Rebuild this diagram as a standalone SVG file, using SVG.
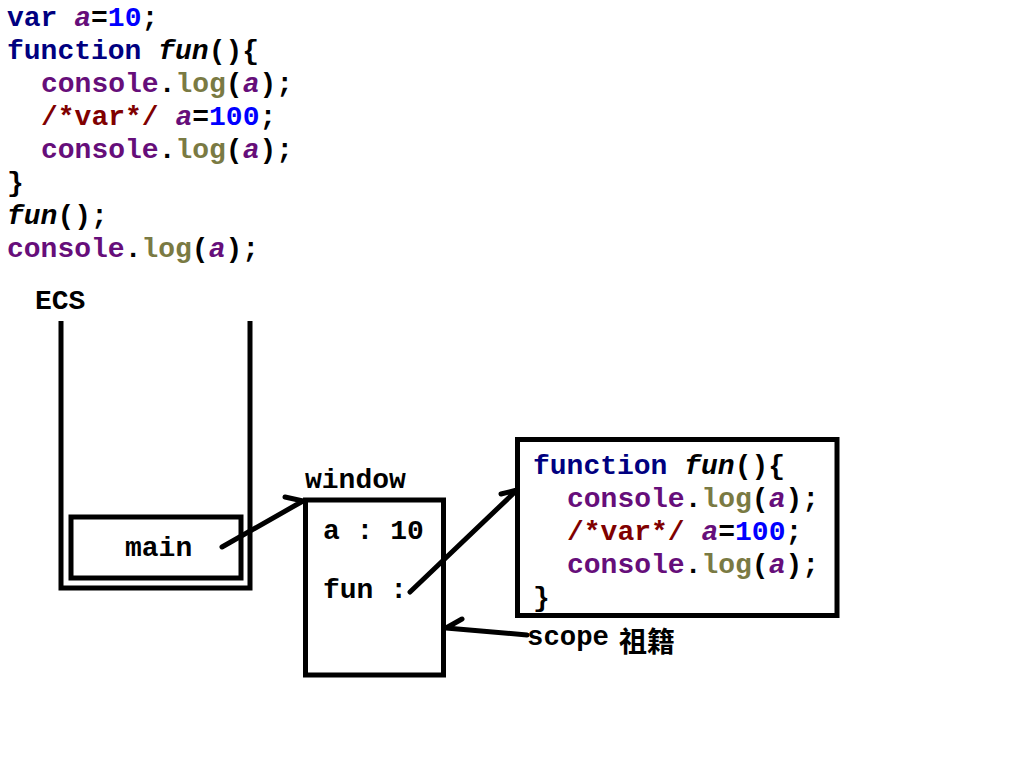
<svg xmlns="http://www.w3.org/2000/svg" width="1010" height="758" viewBox="0 0 1010 758">
<style>
text{font-family:"Liberation Mono","Courier New",monospace;font-size:28px;font-weight:bold;fill:#000;white-space:pre}
.kw{fill:#000080}
.v{fill:#660e7a;font-style:italic}
.n{fill:#0000ff}
.c{fill:#660e7a}
.m{fill:#7a7a43}
.cm{fill:#800000}
.f{font-style:italic}
.cjk{font-family:"Noto Sans CJK SC","Noto Sans CJK TC",sans-serif;font-weight:bold}
.box{fill:none;stroke:#000;stroke-width:5}
.ln{fill:none;stroke:#000;stroke-width:5;stroke-linecap:round;stroke-linejoin:round}
</style>
<rect width="1010" height="758" fill="#fff"/>
<g id="code">
<text x="7" y="26"><tspan class="kw">var </tspan><tspan class="v">a</tspan>=<tspan class="n">10</tspan>;</text>
<text x="7" y="59"><tspan class="kw">function </tspan><tspan class="f">fun</tspan>(){</text>
<text x="41" y="92"><tspan class="c">console</tspan>.<tspan class="m">log</tspan>(<tspan class="v">a</tspan>);</text>
<text x="41" y="125"><tspan class="cm">/*var*/ </tspan><tspan class="v">a</tspan>=<tspan class="n">100</tspan>;</text>
<text x="41" y="158"><tspan class="c">console</tspan>.<tspan class="m">log</tspan>(<tspan class="v">a</tspan>);</text>
<text x="7" y="191">}</text>
<text x="7" y="224"><tspan class="f">fun</tspan>();</text>
<text x="7" y="257"><tspan class="c">console</tspan>.<tspan class="m">log</tspan>(<tspan class="v">a</tspan>);</text>
</g>
<g id="ecs">
<text x="35" y="309">ECS</text>
<path class="box" d="M61,321 V588 H250 V321"/>
</g>
<g id="main">
<rect class="box" x="71" y="517" width="170" height="61"/>
<text x="125" y="556">main</text>
</g>
<g id="window">
<text x="305" y="488">window</text>
<rect class="box" x="305.5" y="500" width="138" height="175"/>
<text x="323" y="539">a : 10</text>
<text x="323" y="598">fun :</text>
</g>
<g id="funbox">
<rect class="box" x="517.5" y="439.5" width="319.5" height="176"/>
<text x="533" y="474"><tspan class="kw">function </tspan><tspan class="f">fun</tspan>(){</text>
<text x="567" y="507"><tspan class="c">console</tspan>.<tspan class="m">log</tspan>(<tspan class="v">a</tspan>);</text>
<text x="567" y="540"><tspan class="cm">/*var*/ </tspan><tspan class="v">a</tspan>=<tspan class="n">100</tspan>;</text>
<text x="567" y="573"><tspan class="c">console</tspan>.<tspan class="m">log</tspan>(<tspan class="v">a</tspan>);</text>
<text x="533" y="606">}</text>
</g>
<g id="scope-label">
<text x="527" y="645" textLength="82" lengthAdjust="spacingAndGlyphs">scope</text>
<text class="cjk" x="619" y="652" font-size="27">祖籍</text>
</g>
<g id="connectors">
<path class="ln" d="M222,547 L303,501 M285,497 L303,501"/>
<path class="ln" d="M410,592 L517,490 M501,494 L517,490"/>
<path class="ln" d="M527,635 L446,628 M462,619 L446,628"/>
</g>
</svg>
